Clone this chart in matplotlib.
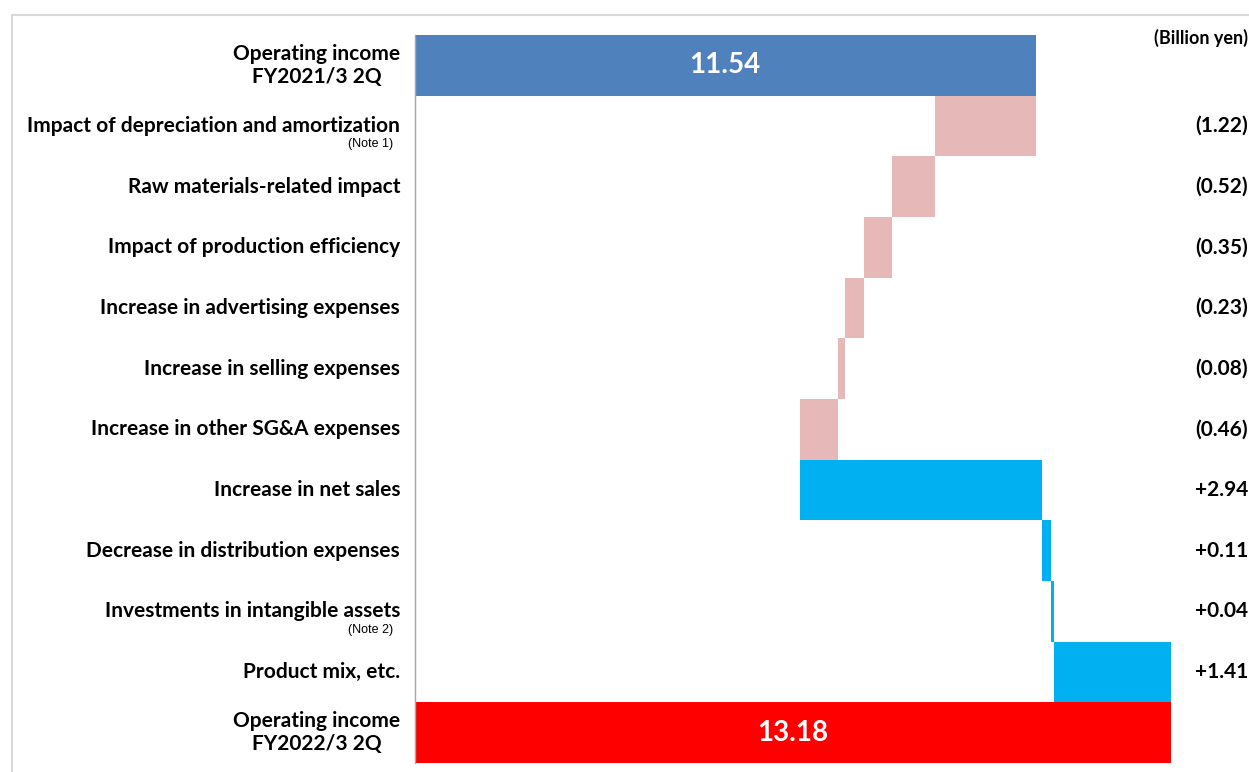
import matplotlib.pyplot as plt
from matplotlib.patches import Rectangle

plt.rcParams['font.family'] = ['Lato', 'DejaVu Sans']

labels = ["Operating income\nFY2021/3 2Q",
          "Impact of depreciation and amortization",
          "Raw materials-related impact",
          "Impact of production efficiency",
          "Increase in advertising expenses",
          "Increase in selling expenses",
          "Increase in other SG&A expenses",
          "Increase in net sales",
          "Decrease in distribution expenses",
          "Investments in intangible assets",
          "Product mix, etc.",
          "Operating income\nFY2022/3 2Q"]
notes = {1: "(Note 1)", 9: "(Note 2)"}
start_value = 11.54
changes = [-1.22, -0.52, -0.35, -0.23, -0.08, -0.46, 2.94, 0.11, 0.04, 1.41]
end_value = 13.18
change_labels = ["(1.22)", "(0.52)", "(0.35)", "(0.23)", "(0.08)", "(0.46)",
                 "+2.94", "+0.11", "+0.04", "+1.41"]

axis_min = 4.0

W, H = 1249, 772
fig = plt.figure(figsize=(W / 100, H / 100), dpi=100)
ax_left, ax_right, ax_top, ax_bot = 415, 1172, 35, 763
ax = fig.add_axes([ax_left / W, 1 - ax_bot / H, (ax_right - ax_left) / W, (ax_bot - ax_top) / H])

# frame around the whole slide
fig.patches.append(Rectangle((12 / W, -0.01), 1.0, 1 - 15 / H + 0.01, transform=fig.transFigure,
                             fill=False, edgecolor='#D9D9D9', lw=1.5))

ax.barh(0, start_value - axis_min, left=axis_min, height=1.0, color='#4F81BD')
ax.text((start_value + axis_min) / 2, 0, f"{start_value:.2f}", color='white', fontsize=20,
        fontweight='bold', ha='center', va='center')

running = start_value
for i, d in enumerate(changes):
    y = i + 1
    color = '#E6B9B8' if d < 0 else '#00B0F0'
    left = running + d if d < 0 else running
    ax.barh(y, abs(d), left=left, height=1.0, color=color)
    running += d

ax.barh(11, end_value - axis_min, left=axis_min, height=1.0, color='#FF0000')
ax.text((end_value + axis_min) / 2, 11, f"{end_value:.2f}", color='white', fontsize=20,
        fontweight='bold', ha='center', va='center')

tr = ax.get_yaxis_transform()
lab_x = (400 - ax_left) / (ax_right - ax_left)
note_x = (393 - ax_left) / (ax_right - ax_left)
val_x = (1248 - ax_left) / (ax_right - ax_left)
for i, lab in enumerate(labels):
    ax.text(lab_x, i, lab, transform=tr, ha='right', va='center', fontsize=15,
            fontweight='bold', linespacing=1.2, multialignment='center')
for i, n in notes.items():
    ax.text(note_x, i + 0.30, n, transform=tr, ha='right', va='center', fontsize=9,
            family='Liberation Sans')
for i, v in enumerate(change_labels):
    ax.text(val_x, i + 1, v, transform=tr, ha='right', va='center', fontsize=15,
            fontweight='bold')
ax.text(val_x, -0.45, "(Billion yen)", transform=tr, ha='right', va='center', fontsize=13,
        fontweight='bold')

ax.set_xlim(axis_min, axis_min + (ax_right - ax_left) / 82.3)
ax.set_ylim(11.5, -0.5)
ax.set_xticks([])
ax.set_yticks([])
for s in ['top', 'right', 'bottom']:
    ax.spines[s].set_visible(False)
ax.spines['left'].set_color('#A6A6A6')
ax.spines['left'].set_linewidth(1.0)

fig.savefig("out.png", dpi=100)
